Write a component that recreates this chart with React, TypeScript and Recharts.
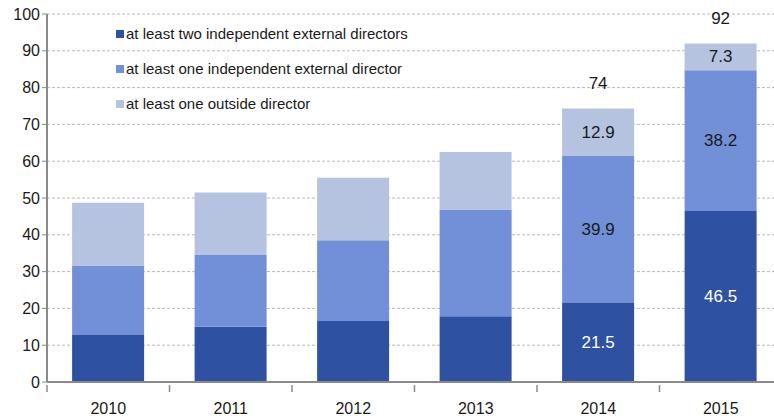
import React from 'react';
import { BarChart, Bar, XAxis, YAxis, CartesianGrid, LabelList } from 'recharts';

document.body.style.margin = '0';

const years = ['2010', '2011', '2012', '2013', '2014', '2015'];
const twoIndependent = [12.8, 15.0, 16.6, 17.9, 21.5, 46.5];
const oneIndependent = [18.7, 19.5, 21.9, 29.0, 39.9, 38.2];
const oneOutside = [17.2, 17.0, 17.0, 15.6, 12.9, 7.3];
const totals = [null, null, null, null, 74, 92];
const labelledYears = ['2014', '2015'];
const yTicks = [0, 10, 20, 30, 40, 50, 60, 70, 80, 90, 100];

const series = [
  { key: 'two', name: 'at least two independent external directors', color: '#2f51a1', text: '#ffffff' },
  { key: 'one', name: 'at least one independent external director', color: '#7190d7', text: '#1a1a1a' },
  { key: 'outside', name: 'at least one outside director', color: '#b5c3e0', text: '#1a1a1a' },
];

const data = years.map((year, i) => ({
  year,
  two: twoIndependent[i],
  one: oneIndependent[i],
  outside: oneOutside[i],
  total: totals[i],
}));

const FONT = '"Liberation Sans", Arial, sans-serif';

// label inside a segment, only for the years the source annotates
const segmentLabel = (color: string) => (props: any) => {
  const { x, y, width, height, value, index } = props;
  if (!labelledYears.includes(years[index])) return null;
  return (
    <text x={x + width / 2} y={y + height / 2} fill={color} fontSize={17} fontFamily={FONT}
      textAnchor="middle" dominantBaseline="central">
      {value}
    </text>
  );
};

const totalLabel = (props: any) => {
  const { x, y, width, index } = props;
  const t = totals[index];
  if (t == null) return null;
  return (
    <text x={x + width / 2} y={y - 25} fill="#1a1a1a" fontSize={17} fontFamily={FONT}
      textAnchor="middle" dominantBaseline="central">
      {t}
    </text>
  );
};

// category label at the band centre, tick mark at the band's left edge (and right edge for the last)
const XTick = (props: any) => {
  const { x, y, payload, index } = props;
  const off = payload.offset || 0;
  return (
    <g>
      <line x1={x - off} x2={x - off} y1={y - 5} y2={y + 2} stroke="#8a8a8a" strokeWidth={1.5} />
      {index === years.length - 1 && (
        <line x1={x + off} x2={x + off} y1={y - 5} y2={y + 2} stroke="#8a8a8a" strokeWidth={1.5} />
      )}
      <text x={x} y={y + 24} textAnchor="middle" fill="#1a1a1a" fontSize={16} fontFamily={FONT}>
        {payload.value}
      </text>
    </g>
  );
};

const LegendBox = () => (
  <div style={{ position: 'absolute', left: 116, top: 16, fontFamily: FONT, fontSize: 15, color: '#1a1a1a' }}>
    {series.map((s) => (
      <div key={s.key} style={{ display: 'flex', alignItems: 'center', height: 35 }}>
        <span style={{ width: 8, height: 8, background: s.color, marginRight: 2, display: 'inline-block' }} />
        <span>{s.name}</span>
      </div>
    ))}
  </div>
);

export default function App() {
  return (
    <div style={{ position: 'relative', width: 774, height: 416, overflow: 'hidden', background: '#fff' }}>
      <BarChart width={782} height={416} data={data} barCategoryGap="20.5%"
        margin={{ top: 14, right: 0, left: 0, bottom: 4 }}>
        <CartesianGrid vertical={false} stroke="#b8b8b8" strokeDasharray="3 2" />
        <XAxis dataKey="year" tickLine={false} axisLine={{ stroke: '#8a8a8a', strokeWidth: 2 }}
          tick={<XTick />} interval={0} />
        <YAxis domain={[0, 100]} ticks={yTicks} width={47} interval={0}
          axisLine={{ stroke: '#8a8a8a', strokeWidth: 2 }} tickLine={{ stroke: '#8a8a8a' }} tickSize={5}
          tick={{ fill: '#1a1a1a', fontSize: 16, fontFamily: FONT }} />
        {series.map((s, i) => (
          <Bar key={s.key} dataKey={s.key} name={s.name} stackId="a" fill={s.color} isAnimationActive={false}>
            <LabelList dataKey={s.key} content={segmentLabel(s.text)} />
            {i === series.length - 1 && <LabelList dataKey="total" content={totalLabel} />}
          </Bar>
        ))}
      </BarChart>
      <LegendBox />
    </div>
  );
}
